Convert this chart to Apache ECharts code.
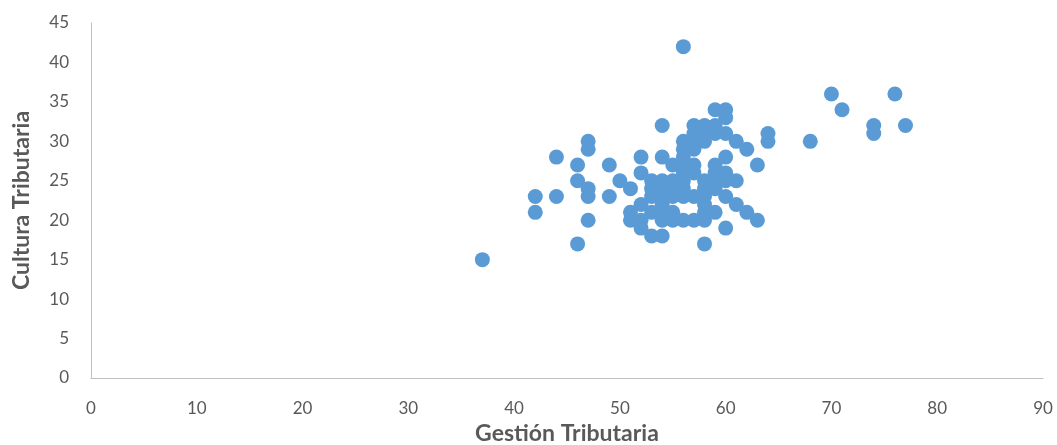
<!DOCTYPE html>
<html>
<head>
<meta charset="utf-8">
<script src="https://cdn.jsdelivr.net/npm/echarts@6/dist/echarts.min.js"></script>
<style>html,body{margin:0;padding:0;background:#fff;}#c{width:1057px;height:445px;}</style>
</head>
<body>
<div id="c"></div>
<script>
const xTitle = "Gestión Tributaria";
const yTitle = "Cultura Tributaria";
const gestion = [37,42,42,44,44,46,46,46,47,47,47,47,47,49,49,50,51,51,51,
  52,52,52,52,52,53,53,53,53,53,54,54,54,54,54,54,54,54,54,
  55,55,55,55,55,55,56,56,56,56,56,56,56,56,56,56,
  57,57,57,57,57,57,57,57,58,58,58,58,58,58,58,58,58,58,
  59,59,59,59,59,59,59,59,60,60,60,60,60,60,60,60,
  61,61,61,62,62,63,63,64,64,68,70,71,74,74,76,77];
const cultura = [15,23,21,28,23,27,25,17,30,29,24,23,20,27,23,25,24,21,20,
  28,26,22,20,19,25,24,23,21,18,32,28,25,24,23,22,21,20,18,
  27,25,24,23,21,20,42,30,29,28,27,26,25,24,23,20,
  32,31,30,29,27,26,23,20,32,31,30,25,24,23,22,21,20,17,
  34,32,31,27,26,25,24,21,34,33,31,28,26,25,23,19,
  30,25,22,29,21,27,20,31,30,30,36,34,32,31,36,32];
const xTicks = {min:0, max:90, interval:10};
const yTicks = {min:0, max:45, interval:5};

const points = gestion.map((g,i)=>[g, cultura[i]]);
const chart = echarts.init(document.getElementById('c'));
const labelStyle = {color:'#595959', fontSize:17, fontFamily:'Lato'};
const nameStyle = {color:'#595959', fontSize:23, fontWeight:'bold', fontFamily:'Lato'};
chart.setOption({
  animation:false,
  grid:{left:91, right:14, top:23, bottom:67, outerBoundsMode:'none', containLabel:false},
  xAxis:{type:'value', min:xTicks.min, max:xTicks.max, interval:xTicks.interval,
    name:xTitle, nameLocation:'middle', nameGap:44,
    nameTextStyle:nameStyle,
    axisLine:{show:true, lineStyle:{color:'#BFBFBF', width:1}},
    axisTick:{show:false}, splitLine:{show:false},
    axisLabel:Object.assign({margin:22}, labelStyle)},
  yAxis:{type:'value', min:yTicks.min, max:yTicks.max, interval:yTicks.interval,
    name:yTitle, nameLocation:'middle', nameGap:58, nameRotate:90,
    nameTextStyle:nameStyle,
    axisLine:{show:true, lineStyle:{color:'#BFBFBF', width:1}},
    axisTick:{show:false}, splitLine:{show:false},
    axisLabel:Object.assign({margin:22}, labelStyle)},
  series:[{type:'scatter', data:points, symbolSize:15,
    itemStyle:{color:'#5B9BD5', opacity:1}}]
});
</script>
</body>
</html>
